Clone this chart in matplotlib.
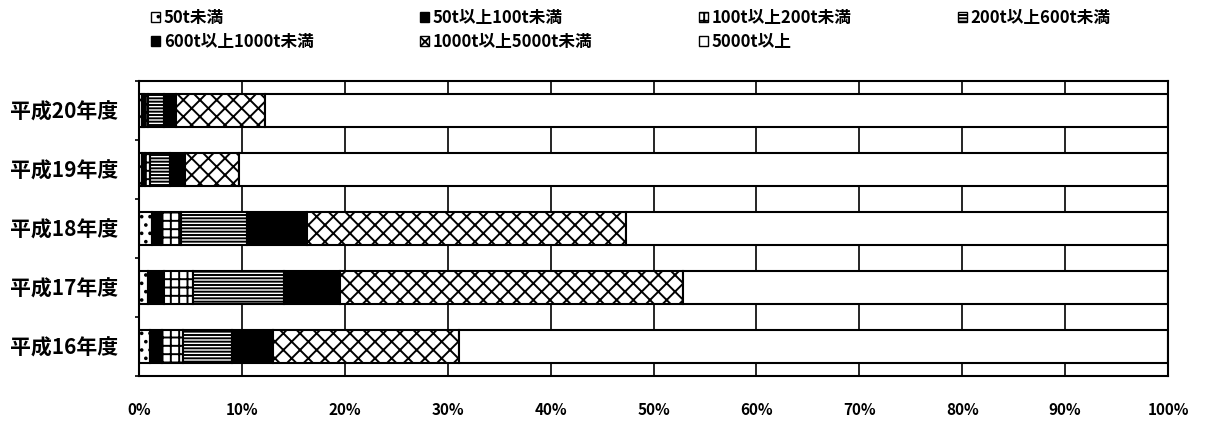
import numpy as np
import matplotlib.pyplot as plt
from matplotlib.patches import Patch

plt.rcParams['font.family'] = ['Noto Sans CJK JP', 'DejaVu Sans']
plt.rcParams['hatch.linewidth'] = 1.4

# years, top to bottom
years = ['平成20年度', '平成19年度', '平成18年度', '平成17年度', '平成16年度']

# share (%) by size class
lt50 = [0.3, 0.3, 1.3, 0.9, 1.1]
r50_100 = [0.2, 0.3, 0.8, 1.5, 1.1]
r100_200 = [0.4, 0.5, 2.0, 2.8, 2.1]
r200_600 = [1.5, 1.9, 6.4, 8.9, 4.7]
r600_1000 = [1.2, 1.5, 5.8, 5.4, 4.0]
r1000_5000 = [8.6, 5.2, 31.0, 33.4, 18.1]
ge5000 = [87.8, 90.3, 52.7, 47.1, 68.9]

labels = ['50t未満', '50t以上100t未満', '100t以上200t未満', '200t以上600t未満',
          '600t以上1000t未満', '1000t以上5000t未満', '5000t以上']
series = [lt50, r50_100, r100_200, r200_600, r600_1000, r1000_5000, ge5000]

faces = ['white', 'black', 'white', 'white', 'black', 'white', 'white']
hatches = ['..', None, '++', '-----', None, 'xx', None]

fig = plt.figure(figsize=(12.05, 4.21), dpi=100)
ax = fig.add_axes([0.1154, 0.107, 0.8539, 0.701])

y = np.arange(len(years))
left = np.zeros(len(years))
handles = []
for vals, lab, fc, h in zip(series, labels, faces, hatches):
    ax.barh(y, vals, left=left, height=0.55, color=fc, edgecolor='black',
            linewidth=1.5, hatch=h, zorder=2)
    left += np.array(vals)
    handles.append(Patch(facecolor=fc, edgecolor='black', hatch=h, linewidth=1))

ax.set_xlim(0, 100)
ax.set_ylim(len(years) - 0.5, -0.5)
ax.set_yticks(y)
ax.set_yticklabels(years, fontsize=15, fontweight='bold')
ax.set_yticks(np.arange(-0.5, len(years)), minor=True)
ax.tick_params(axis='y', which='major', length=0, pad=15)
ax.tick_params(axis='y', which='minor', length=3, direction='out', width=1.2)

ax.set_xticks(np.arange(0, 101, 10))
ax.set_xticklabels([f'{v}%' for v in range(0, 101, 10)], fontsize=11,
                   fontweight='bold')
ax.tick_params(axis='x', length=0, pad=19)
ax.grid(axis='x', color='black', linewidth=1.2, zorder=0)
ax.set_axisbelow(True)
for s in ax.spines.values():
    s.set_linewidth(1.5)
    s.set_color('black')

order = [0, 4, 1, 5, 2, 6, 3]
leg = fig.legend([handles[i] for i in order], [labels[i] for i in order],
                 ncol=4, loc='upper left', bbox_to_anchor=(0.113, 1.015),
                 frameon=False, handlelength=0.55, handleheight=0.55,
                 handletextpad=0.2, columnspacing=6.4, labelspacing=0.4,
                 prop={'size': 12, 'weight': 'bold'})

fig.savefig('out.png', dpi=100)
